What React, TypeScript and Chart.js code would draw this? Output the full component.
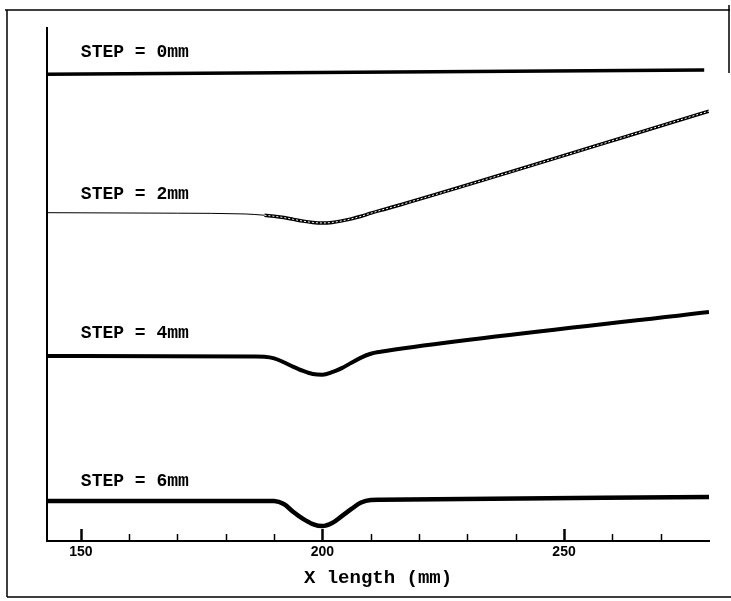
import React, { useEffect, useRef } from "react";
import { Chart, registerables } from "chart.js";

Chart.register(...registerables);

// x positions in mm, y values in arbitrary deflection units (curves offset vertically)
const xStep0 = [143, 279];
const yStep0 = [91.0, 91.8];

const xStep2 = [143, 170, 184, 188, 190, 192, 194, 196, 198, 200, 202, 204, 206, 208, 210, 212, 216, 280];
const yStep2 = [64.0, 63.9, 63.75, 63.5, 63.3, 63.05, 62.7, 62.35, 62.1, 62.0, 62.1, 62.4, 62.8, 63.3, 63.9, 64.45, 65.5, 83.8];

const xStep4 = [143, 186, 188, 190, 192, 194, 196, 198, 200, 202, 204, 206, 208, 210, 212, 215, 280];
const yStep4 = [36.05, 35.95, 35.9, 35.6, 34.85, 33.95, 33.15, 32.55, 32.4, 32.9, 33.7, 34.75, 35.75, 36.5, 36.9, 37.35, 44.65];

const xStep6 = [143, 188, 190, 192, 194, 196, 198, 200, 202, 204, 206, 208, 210, 212, 280];
const yStep6 = [7.8, 7.8, 7.78, 7.2, 5.65, 4.3, 3.3, 2.9, 3.5, 4.85, 6.25, 7.5, 8.0, 8.05, 8.6];

const curveLabels = ["STEP = 0mm", "STEP = 2mm", "STEP = 4mm", "STEP = 6mm"];
const curveLabelX = [150, 150, 150, 150];
const curveLabelY = [95.3, 67.6, 40.5, 11.7];

const majorTicks = [150, 200, 250];
const minorTicks = [160, 170, 180, 190, 210, 220, 230, 240, 260, 270];
const xTitle = "X length (mm)";
const markerStart = 186;

const pts = (xs: number[], ys: number[]) => xs.map((x, i) => ({ x, y: ys[i] }));

const framePlugin = {
  id: "frame",
  beforeDraw(chart: any) {
    const ctx = chart.ctx;
    ctx.save();
    ctx.fillStyle = "#fff";
    ctx.fillRect(0, 0, chart.width, chart.height);
    ctx.strokeStyle = "#000";
    ctx.lineWidth = 1.5;
    ctx.beginPath();
    ctx.moveTo(7, 10);
    ctx.lineTo(7, 597);
    ctx.moveTo(5, 10);
    ctx.lineTo(730, 10);
    ctx.moveTo(7, 597);
    ctx.lineTo(731, 597);
    ctx.moveTo(729, 5);
    ctx.lineTo(729, 73);
    ctx.stroke();
    ctx.restore();
  },
};

const ticksPlugin = {
  id: "insideTicks",
  afterDraw(chart: any) {
    const ctx = chart.ctx;
    const xs = chart.scales.x;
    const ys = chart.scales.y;
    const y0 = chart.chartArea.bottom;
    ctx.save();
    ctx.strokeStyle = "#000";
    ctx.lineCap = "butt";
    const all = [...majorTicks, ...minorTicks];
    all.forEach((v) => {
      const major = majorTicks.includes(v);
      const x = Math.round(xs.getPixelForValue(v)) + 0.5;
      ctx.lineWidth = major ? 2.5 : 1.5;
      ctx.beginPath();
      ctx.moveTo(x, y0);
      ctx.lineTo(x, y0 - (major ? 12 : 7));
      ctx.stroke();
    });
    ctx.fillStyle = "#000";
    ctx.font = 'bold 18px "Liberation Mono"';
    ctx.textBaseline = "middle";
    ctx.textAlign = "left";
    curveLabels.forEach((t, i) => {
      ctx.fillText(t, xs.getPixelForValue(curveLabelX[i]), ys.getPixelForValue(curveLabelY[i]));
    });
    ctx.restore();
  },
};

export default function App() {
  const ref = useRef<HTMLCanvasElement>(null);
  useEffect(() => {
    if (!ref.current) return;
    const smooth = { cubicInterpolationMode: "monotone" };
    const chart = new Chart(ref.current, {
      type: "line",
      data: {
        datasets: [
          {
            label: "overlay2",
            data: pts(xStep2, yStep2),
            order: 0,
            borderColor: "rgba(0,0,0,0)",
            borderWidth: 1,
            pointRadius: 0,
            ...smooth,
            segment: {
              borderColor: (c: any) => (c.p0.parsed.x >= markerStart ? "#fff" : "rgba(0,0,0,0)"),
              borderDash: () => [2, 2],
            },
          },
          {
            label: "STEP = 0mm",
            data: pts(xStep0, yStep0),
            order: 1,
            borderColor: "#000",
            borderWidth: 3.5,
            pointRadius: 0,
          },
          {
            label: "STEP = 2mm",
            data: pts(xStep2, yStep2),
            order: 1,
            borderColor: "#000",
            borderWidth: 1,
            pointRadius: 0,
            ...smooth,
            segment: {
              borderWidth: (c: any) => (c.p0.parsed.x >= markerStart ? 3.5 : 1),
            },
          },
          {
            label: "STEP = 4mm",
            data: pts(xStep4, yStep4),
            order: 1,
            borderColor: "#000",
            borderWidth: 4,
            pointRadius: 0,
            ...smooth,
          },
          {
            label: "STEP = 6mm",
            data: pts(xStep6, yStep6),
            order: 1,
            borderColor: "#000",
            borderWidth: 4.5,
            pointRadius: 0,
            ...smooth,
          },
        ],
      },
      options: {
        responsive: false,
        animation: false,
        devicePixelRatio: 1,
        layout: { padding: { left: 47, top: 28, right: 22, bottom: 0 } },
        plugins: { legend: { display: false }, tooltip: { enabled: false } },
        scales: {
          x: {
            type: "linear",
            position: "bottom",
            min: 143,
            max: 280,
            afterBuildTicks: (s: any) => {
              s.ticks = majorTicks.map((v) => ({ value: v }));
            },
            afterFit: (s: any) => {
              s.height = 60;
            },
            ticks: {
              color: "#000",
              font: { family: "Liberation Sans", weight: "bold", size: 14 },
              padding: 3,
              maxRotation: 0,
              autoSkip: false,
            },
            grid: { display: false, drawTicks: false },
            border: { display: true, color: "#000", width: 2 },
            title: {
              display: true,
              text: xTitle,
              color: "#000",
              font: { family: "Liberation Mono", size: 19, weight: "bold" },
              padding: { top: 0, bottom: 11.6 },
            },
          },
          y: {
            type: "linear",
            min: 0,
            max: 100,
            afterFit: (s: any) => {
              s.width = 0;
            },
            ticks: { display: false },
            grid: { display: false, drawTicks: false },
            border: { display: true, color: "#000", width: 2 },
          },
        },
      },
      plugins: [framePlugin, ticksPlugin],
    } as any);
    return () => chart.destroy();
  }, []);
  return (
    <div style={{ position: "absolute", left: 0, top: 0, width: 731, height: 601 }}>
      <canvas ref={ref} width={731} height={601} />
    </div>
  );
}
